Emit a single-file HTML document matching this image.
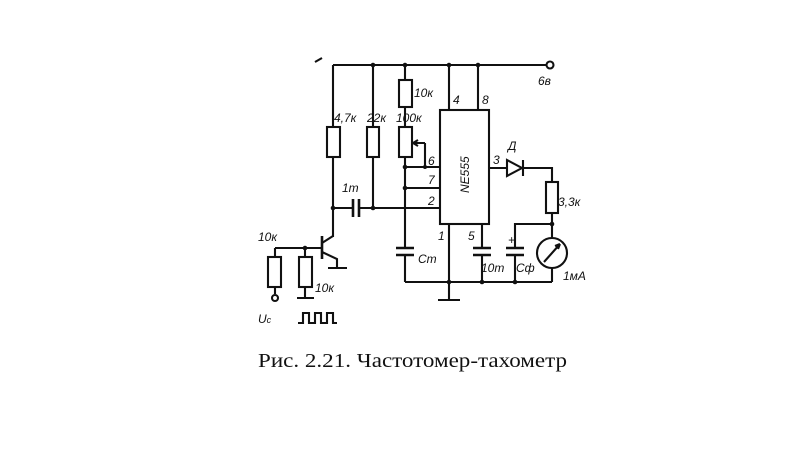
<!DOCTYPE html>
<html><head><meta charset="utf-8"><style>
html,body{margin:0;padding:0;background:#fff;}
svg{display:block}
text{font-family:"Liberation Sans",sans-serif;font-style:italic;font-size:12px;fill:#111}
.cap{font-family:"Liberation Serif",serif;font-style:normal;font-size:20px;font-weight:normal}
</style></head><body>
<svg width="800" height="450" viewBox="0 0 800 450" xmlns="http://www.w3.org/2000/svg">
<g stroke="#111" stroke-width="2.1" fill="none">
<path d="M315 62 L322 58"/>
<path d="M333 65 H546"/>
<circle cx="550" cy="65" r="3.5" fill="#fff"/>
<path d="M333 65 V127 M333 157 V237"/>
<rect x="327" y="127" width="13" height="30" fill="#fff"/>
<path d="M333 208 H353 M359 208 H440"/>
<path d="M353 199 V217 M359 199 V217" stroke-width="2.6"/>
<path d="M373 65 V127 M373 157 V208"/>
<rect x="367" y="127" width="12" height="30" fill="#fff"/>
<path d="M405 65 V80 M405 107 V127 M405 157 V248 M405 255 V282"/>
<rect x="399" y="80" width="13" height="27" fill="#fff"/>
<rect x="399" y="127" width="13" height="30" fill="#fff"/>
<path d="M425 143 H413 M425 143 V167"/>
<path d="M413 143 L418 140 M413 143 L418 146"/>
<path d="M405 167 H440 M405 188 H440"/>
<path d="M396 248 H414 M396 255 H414" stroke-width="2.5"/>
<rect x="440" y="110" width="49" height="114"/>
<path d="M449 65 V110 M478 65 V110"/>
<path d="M449 224 V300 M438 300 H460"/>
<path d="M482 224 V248 M482 255 V282"/>
<path d="M473 248 H491 M473 255 H491" stroke-width="2.5"/>
<path d="M405 282 H552"/>
<path d="M489 168 H507 M523 168 H552 V182"/>
<path d="M507 160 V176 L522 168 Z"/>
<path d="M523 160 V176"/>
<rect x="546" y="182" width="12" height="31" fill="#fff"/>
<path d="M552 213 V238 M552 268 V282"/>
<circle cx="552" cy="253" r="15"/>
<path d="M544 262 L560 244 M560 244 L555 246 M560 244 L558 249"/>
<path d="M552 224 H515 V248 M515 255 V282"/>
<path d="M506 248 H524 M506 255 H524" stroke-width="2.5"/>
<path d="M322 236 V259" stroke-width="2.6"/>
<path d="M275 248 H322 M322 243 L333 236 M322 252 L337 259 V268 M328 268 H347"/>
<path d="M275 248 V257 M275 287 V294 M305 248 V257 M305 287 V298 M297 298 H314"/>
<rect x="268" y="257" width="13" height="30" fill="#fff"/>
<rect x="299" y="257" width="13" height="30" fill="#fff"/>
<circle cx="275" cy="298" r="3"/>
<path d="M298 323 H303 V313 H309 V323 H315 V313 H321 V323 H327 V313 H333 V323 H337"/>
</g>
<g fill="#111">
<circle cx="373" cy="65" r="2.3"/><circle cx="405" cy="65" r="2.3"/><circle cx="449" cy="65" r="2.3"/><circle cx="478" cy="65" r="2.3"/>
<circle cx="333" cy="208" r="2.3"/><circle cx="373" cy="208" r="2.3"/>
<circle cx="405" cy="167" r="2.3"/><circle cx="405" cy="188" r="2.3"/><circle cx="425" cy="167" r="2"/>
<circle cx="305" cy="248" r="2.3"/><circle cx="449" cy="282" r="2.3"/><circle cx="482" cy="282" r="2.3"/><circle cx="515" cy="282" r="2.3"/><circle cx="552" cy="224" r="2.3"/>
</g>
<text x="538" y="85">6в</text>
<text x="414" y="97">10к</text>
<text x="453" y="104">4</text><text x="482" y="104">8</text>
<text x="334" y="122">4,7к</text><text x="367" y="122">22к</text><text x="396" y="122">100к</text>
<text x="428" y="165">6</text><text x="428" y="184">7</text><text x="428" y="205">2</text>
<text x="493" y="164">3</text><text x="508" y="150">Д</text>
<text x="558" y="206">3,3к</text>
<text x="342" y="192">1т</text>
<text x="258" y="241">10к</text>
<text x="315" y="292">10к</text>
<text x="438" y="240">1</text><text x="468" y="240">5</text>
<text x="418" y="263">Cт</text><text x="481" y="272">10т</text><text x="516" y="272">Cф</text>
<text x="563" y="280">1мА</text>
<text x="508" y="244" font-size="9">+</text>
<text x="258" y="323" font-size="14">U<tspan font-size="9">с</tspan></text>
<text x="0" y="0" font-size="13" transform="translate(469,193) rotate(-90)">NE555</text>
<text class="cap" x="258" y="367" textLength="309" lengthAdjust="spacingAndGlyphs">Рис. 2.21. Частотомер-тахометр</text>
</svg>
</body></html>
